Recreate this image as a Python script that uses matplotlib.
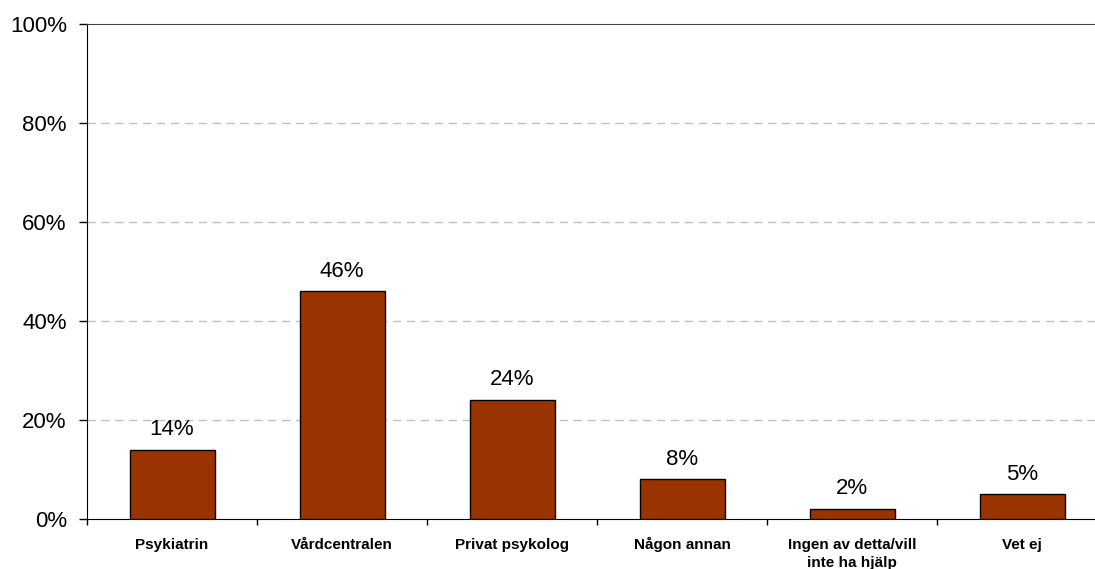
import matplotlib.pyplot as plt
import numpy as np

categories = ["Psykiatrin", "Vårdcentralen", "Privat psykolog", "Någon annan",
              "Ingen av detta/vill\ninte ha hjälp", "Vet ej"]
values = [14, 46, 24, 8, 2, 5]
yticks = [0, 20, 40, 60, 80, 100]

plt.rcParams["font.family"] = ["Liberation Sans", "DejaVu Sans"]

fig = plt.figure(figsize=(10.95, 5.69), dpi=100)
ax = fig.add_axes([87 / 1095, 1 - 519 / 569, 1020 / 1095, 495 / 569])

x = np.arange(len(categories))
ax.bar(x, values, width=0.5, color="#993300", edgecolor="black", linewidth=1, zorder=3)

for xi, v in zip(x, values):
    ax.annotate(f"{v}%", (xi, v), xytext=(0, 7), textcoords="offset points",
                ha="center", va="bottom", fontsize=16)

ax.set_xlim(-0.5, len(categories) - 0.5)
ax.set_ylim(0, 100)
ax.set_yticks(yticks)
ax.set_yticklabels([f"{t}%" for t in yticks], fontsize=16)
ax.tick_params(axis="y", direction="out", length=6, width=1, pad=8.5)

# tick marks on category boundaries
ax.set_xticks(np.arange(len(categories) + 1) - 0.5)
ax.set_xticklabels([])
ax.tick_params(axis="x", which="major", direction="out", length=4, width=1)

# category labels, each line on a common baseline below the axis
for xi, name in zip(x, categories):
    for i, line in enumerate(name.split("\n")):
        ax.annotate(line, (xi, 0), xytext=(0, -21.5 - 13.2 * i),
                    textcoords="offset points", ha="center", va="baseline",
                    fontsize=11, fontweight="bold", annotation_clip=False)

for t in yticks[1:-1]:
    ax.axhline(t, color="#c0c0c0", linestyle=(0, (6, 4)), linewidth=1, zorder=1)

ax.spines["top"].set_color("#444444")
ax.spines["right"].set_visible(False)
ax.spines["left"].set_color("black")
ax.spines["bottom"].set_color("black")

plt.savefig("out.png", dpi=100)
plt.close()
